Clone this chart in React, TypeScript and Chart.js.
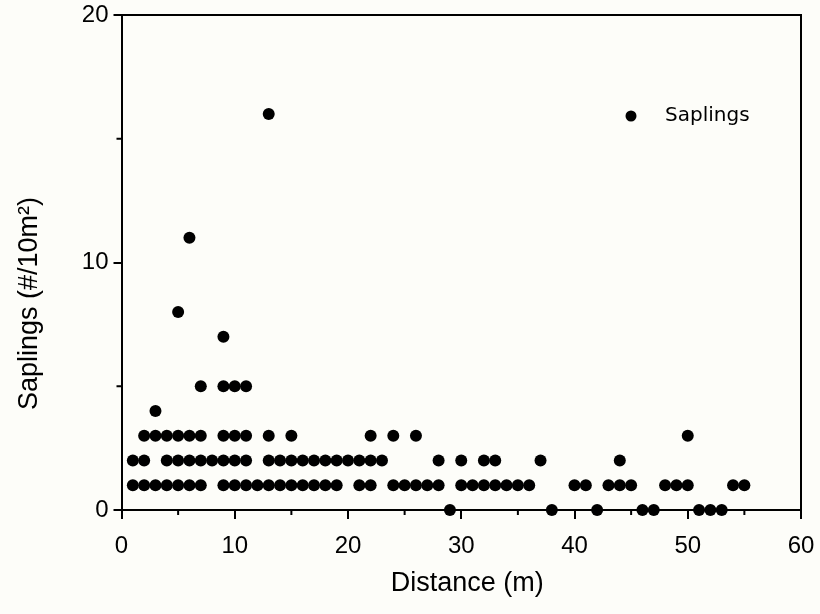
import React, { useEffect, useRef } from "react";
import { Chart, registerables } from "chart.js";

Chart.register(...registerables);

// Distance along transect (m) for each plot, paired with saplings count (#/10m²)
const distance = [
  // 0 saplings
  29, 38, 42, 46, 47, 51, 52, 53,
  // 1 sapling
  1, 2, 3, 4, 5, 6, 7,
  9, 10, 11, 12, 13, 14, 15,
  16, 17, 18, 19, 21, 22, 24,
  25, 26, 27, 28, 30, 31, 32,
  33, 34, 35, 36, 40, 41, 43,
  44, 45, 48, 49, 50, 54, 55,
  // 2 saplings
  1, 2, 4, 5, 6, 7, 8, 9, 10,
  11, 13, 14, 15, 16, 17, 18, 19, 20,
  21, 22, 23, 28, 30, 32, 33, 37, 44,
  // 3 saplings
  2, 3, 4, 5, 6, 7, 9, 10, 11, 13, 15, 22, 24, 26, 50,
  // higher counts
  3,
  7, 9, 10, 11,
  9,
  5,
  6,
  13,
];

const saplings = [
  0, 0, 0, 0, 0, 0, 0, 0,
  1, 1, 1, 1, 1, 1, 1,
  1, 1, 1, 1, 1, 1, 1,
  1, 1, 1, 1, 1, 1, 1,
  1, 1, 1, 1, 1, 1, 1,
  1, 1, 1, 1, 1, 1, 1,
  1, 1, 1, 1, 1, 1, 1,
  2, 2, 2, 2, 2, 2, 2, 2, 2,
  2, 2, 2, 2, 2, 2, 2, 2, 2,
  2, 2, 2, 2, 2, 2, 2, 2, 2,
  3, 3, 3, 3, 3, 3, 3, 3, 3, 3, 3, 3, 3, 3, 3,
  4,
  5, 5, 5, 5,
  7,
  8,
  11,
  16,
];

const seriesLabel = "Saplings";
const xTitle = "Distance (m)";
const yTitle = "Saplings (#/10m²)";
const xTicks = [0, 10, 20, 30, 40, 50, 60];
const yTicks = [0, 10, 20];
const xMinor = [5, 15, 25, 35, 45, 55];
const yMinor = [5, 15];

const FONT = '"Liberation Sans", Arial, Helvetica, sans-serif';

const decorPlugin = {
  id: "decor",
  beforeDraw(chart: any) {
    const ctx = chart.ctx;
    ctx.save();
    ctx.fillStyle = "#fdfdf9";
    ctx.fillRect(0, 0, chart.width, chart.height);
    ctx.restore();
  },
  afterDraw(chart: any) {
    const ctx = chart.ctx;
    const { left, right, top, bottom } = chart.chartArea;
    const xs = chart.scales.x;
    const ys = chart.scales.y;
    ctx.save();
    ctx.strokeStyle = "#000";
    ctx.lineWidth = 2;
    // top and right frame
    ctx.beginPath();
    ctx.moveTo(left - 1, top);
    ctx.lineTo(right, top);
    ctx.lineTo(right, bottom);
    ctx.stroke();
    // minor ticks
    ctx.beginPath();
    xMinor.forEach((v) => {
      const px = xs.getPixelForValue(v);
      ctx.moveTo(px, bottom);
      ctx.lineTo(px, bottom + 5);
    });
    yMinor.forEach((v) => {
      const py = ys.getPixelForValue(v);
      ctx.moveTo(left, py);
      ctx.lineTo(left - 5, py);
    });
    ctx.stroke();

    // axis titles
    ctx.fillStyle = "#000";
    ctx.font = `27px ${FONT}`;
    ctx.textAlign = "center";
    ctx.textBaseline = "middle";
    ctx.fillText(xTitle, (left + right) / 2 + 6, bottom + 74);
    ctx.save();
    ctx.translate(30, (top + bottom) / 2 + 41);
    ctx.rotate(-Math.PI / 2);
    ctx.fillText(yTitle, 0, 0);
    ctx.restore();

    // legend
    const lx = right - 170;
    const ly = top + 101;
    ctx.beginPath();
    ctx.arc(lx, ly, 5.5, 0, Math.PI * 2);
    ctx.fill();
    ctx.font = `20px "DejaVu Sans", Verdana, sans-serif`;
    ctx.textAlign = "left";
    ctx.fillText(seriesLabel, lx + 34, ly);
    ctx.restore();
  },
};

export default function App() {
  const canvasRef = useRef<HTMLCanvasElement | null>(null);

  useEffect(() => {
    const canvas = canvasRef.current;
    if (!canvas) return;
    const points = distance.map((d, i) => ({ x: d, y: saplings[i] }));
    const chart = new Chart(canvas, {
      type: "scatter",
      data: {
        datasets: [
          {
            label: seriesLabel,
            data: points,
            pointRadius: 6,
            pointHoverRadius: 6,
            pointBackgroundColor: "#000",
            pointBorderWidth: 0,
            showLine: false,
            clip: false as any,
          },
        ],
      },
      options: {
        animation: false,
        responsive: false,
        devicePixelRatio: 1,
        layout: { padding: { left: 0, right: 19, top: 15, bottom: 0 } },
        scales: {
          x: {
            type: "linear",
            min: 0,
            max: 60,
            afterBuildTicks: (s: any) => {
              s.ticks = xTicks.map((v) => ({ value: v }));
            },
            afterFit: (s: any) => {
              s.height = 104;
              s.paddingLeft = 0;
              s.paddingRight = 0;
            },
            ticks: {
              color: "#000",
              font: { family: FONT, size: 24 },
              padding: 13,
              maxRotation: 0,
              autoSkip: false,
            },
            grid: {
              display: true,
              drawOnChartArea: false,
              drawTicks: true,
              tickLength: 9,
              color: "#000",
              lineWidth: 2,
            },
            border: { display: true, color: "#000", width: 2 },
          },
          y: {
            type: "linear",
            min: 0,
            max: 20,
            afterBuildTicks: (s: any) => {
              s.ticks = yTicks.map((v) => ({ value: v }));
            },
            afterFit: (s: any) => {
              s.width = 121.5;
              s.paddingTop = 0;
              s.paddingBottom = 0;
            },
            ticks: {
              color: "#000",
              font: { family: FONT, size: 24 },
              padding: 5,
              autoSkip: false,
            },
            grid: {
              display: true,
              drawOnChartArea: false,
              drawTicks: true,
              tickLength: 8,
              color: "#000",
              lineWidth: 2,
            },
            border: { display: true, color: "#000", width: 2 },
          },
        },
        plugins: {
          legend: { display: false },
          tooltip: { enabled: false },
        },
      },
      plugins: [decorPlugin],
    });
    return () => chart.destroy();
  }, []);

  return (
    <div
      style={{
        position: "fixed",
        left: 0,
        top: 0,
        width: 820,
        height: 614,
        background: "#fdfdf9",
      }}
    >
      <canvas ref={canvasRef} width={820} height={614} style={{ width: 820, height: 614, display: "block" }} />
    </div>
  );
}
